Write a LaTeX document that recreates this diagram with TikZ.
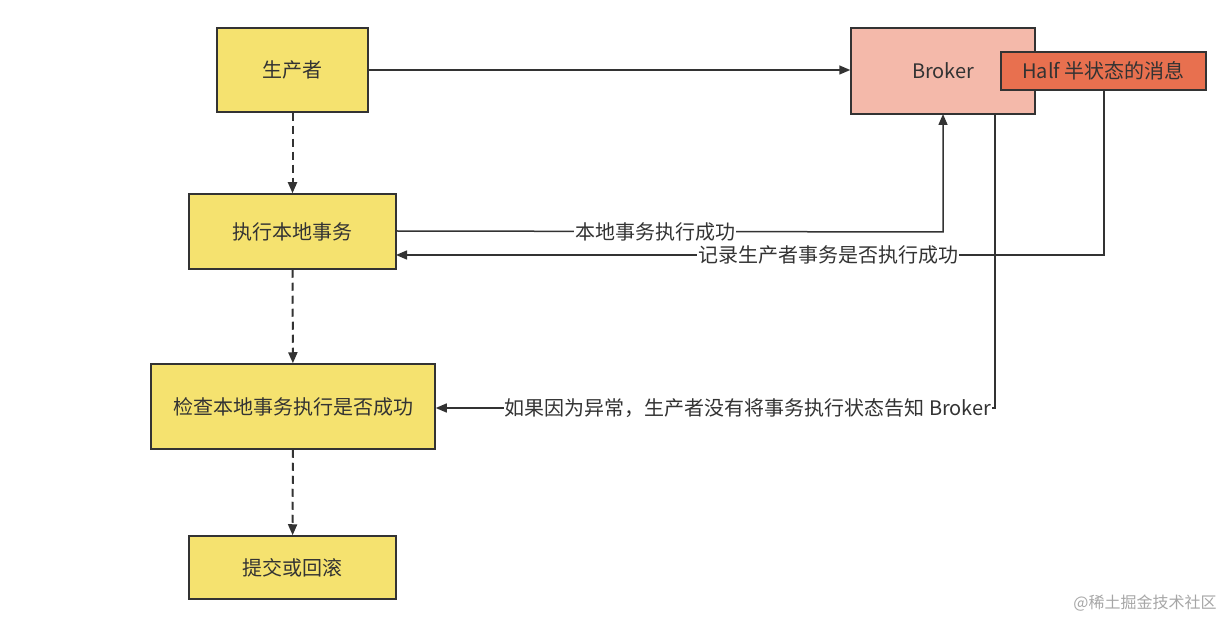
\documentclass[tikz,border=0pt]{standalone}
\usepackage{fontspec}
\setmainfont{Noto Sans CJK SC}
\usetikzlibrary{arrows.meta}
\definecolor{yel}{HTML}{F5E26F}
\definecolor{brk}{HTML}{F4B9AA}
\definecolor{half}{HTML}{E8704F}
\definecolor{ln}{HTML}{333333}
\tikzset{
 box/.style={draw=ln,line width=1.5pt,fill=yel,inner sep=0pt,text=ln,font=\fontsize{20}{22}\selectfont},
 arr/.style={draw=ln,line width=1.5pt,-{Triangle[length=11pt,width=9pt]}},
 dsh/.style={dash pattern=on 8pt off 5pt,line width=2pt},
 lab/.style={fill=white,inner sep=1pt,text=ln,font=\fontsize{20}{22}\selectfont}
}
\begin{document}
\begin{tikzpicture}[x=1pt,y=-1pt]
\useasboundingbox (0,0) rectangle (1232,620);
\node[box,minimum width=151pt,minimum height=84pt] (p) at (292.5,70) {生产者};
\node[box,minimum width=207pt,minimum height=75pt] (e) at (292.5,231.5) {执行本地事务};
\node[box,minimum width=284pt,minimum height=85pt] (c) at (293,406.5) {检查本地事务执行是否成功};
\node[box,minimum width=207pt,minimum height=63pt] (r) at (292.5,567.5) {提交或回滚};
\node[box,fill=brk,minimum width=184pt,minimum height=86pt,text width=150pt,align=left] (b) at (943,71) {\hspace{44pt}Broker};
\node[box,fill=half,minimum width=205pt,minimum height=38pt] (h) at (1103.5,71) {Half 半状态的消息};
\draw[arr] (p.east) -- (b.west|-p.east);
\draw[arr,dsh] (p) -- (e);
\draw[arr,dsh] (e) -- (c);
\draw[arr,dsh] (c) -- (r);
\coordinate (e1) at ([yshift=0.5pt]e.east);
\draw[arr] (e1) -- (943,232) -- (943,114) coordinate (bb);
\node[lab] at (655,232) {本地事务执行成功};
\draw[arr] (1104,90) -- (1104,255) -- (396,255);
\node[lab] at (828,255) {记录生产者事务是否执行成功};
\draw[arr] (995,114) -- (995,408) -- (c.east|-0,408);
\node[lab] at (748,408) {如果因为异常，生产者没有将事务执行状态告知 Broker};
\node[text=gray!70,font=\fontsize{16}{18}\selectfont] at (1145,603) {@稀土掘金技术社区};
\end{tikzpicture}
\end{document}
